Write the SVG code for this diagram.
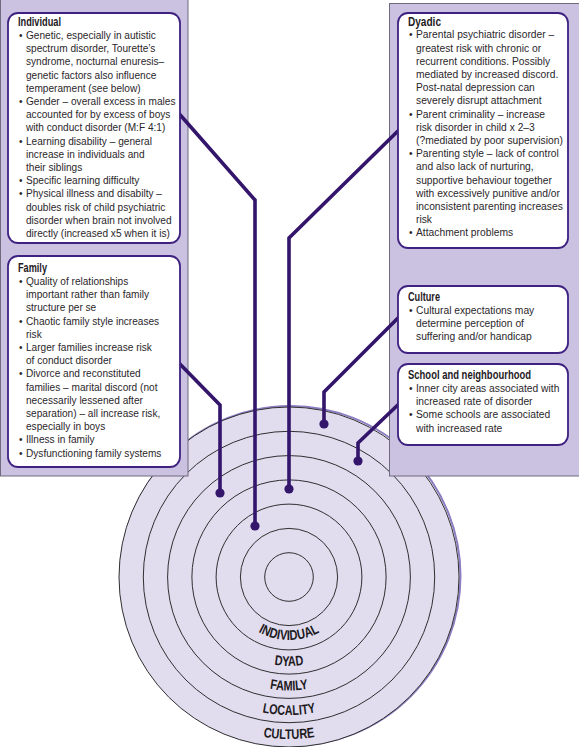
<svg xmlns="http://www.w3.org/2000/svg" width="579" height="747" viewBox="0 0 579 747">
<style>
.panel{fill:#cac2e0;stroke:#6f6a7c;stroke-width:1}
.box{fill:#ffffff;stroke:#3e2180;stroke-width:1.8}
.ring{fill:none;stroke:#2f2f2f;stroke-width:1}
.hd{font-family:"Liberation Sans",Arial,sans-serif;font-weight:bold;font-size:12.5px;fill:#1e1a1e}
.tx{font-family:"Liberation Sans",Arial,sans-serif;font-size:11.3px;fill:#2a262a}
.lbl{font-family:"Liberation Sans",Arial,sans-serif;font-weight:bold;font-size:14px;fill:#1e1a1e}
.con{fill:none;stroke:#33156b;stroke-width:3.6;stroke-linejoin:miter}
.dot{fill:#33156b}
</style>
<defs>
<path id="arc1" d="M 226 577 A 63 63 0 0 0 352 577"/>
<path id="arc2" d="M 200 577 A 89 89 0 0 0 378 577"/>
<path id="arc3" d="M 175.5 577 A 113.5 113.5 0 0 0 402.5 577"/>
<path id="arc4" d="M 151 577 A 138 138 0 0 0 427 577"/>
<path id="arc5" d="M 127 577 A 162 162 0 0 0 451 577"/>
</defs>
<rect width="579" height="747" fill="#ffffff"/>
<g id="rings">
<circle cx="290.5" cy="576" r="170" fill="none" stroke="#8d7dc2" stroke-width="2"/>
<circle cx="289" cy="577" r="170" fill="#e1ddef" stroke="#2f2f2f" stroke-width="1"/>
<circle class="ring" cx="289" cy="577" r="145.7"/>
<circle class="ring" cx="289" cy="577" r="121.4"/>
<circle class="ring" cx="289" cy="577" r="97.1"/>
<circle class="ring" cx="289" cy="577" r="72.9"/>
<circle class="ring" cx="289" cy="577" r="48.6"/>
<circle class="ring" cx="289" cy="577" r="24.3"/>
<text class="lbl"><textPath href="#arc1" startOffset="50%" text-anchor="middle" textLength="64" lengthAdjust="spacingAndGlyphs">INDIVIDUAL</textPath></text>
<text class="lbl"><textPath href="#arc2" startOffset="50%" text-anchor="middle" textLength="30" lengthAdjust="spacingAndGlyphs">DYAD</textPath></text>
<text class="lbl"><textPath href="#arc3" startOffset="50%" text-anchor="middle" textLength="39" lengthAdjust="spacingAndGlyphs">FAMILY</textPath></text>
<text class="lbl"><textPath href="#arc4" startOffset="50%" text-anchor="middle" textLength="54" lengthAdjust="spacingAndGlyphs">LOCALITY</textPath></text>
<text class="lbl"><textPath href="#arc5" startOffset="50%" text-anchor="middle" textLength="52" lengthAdjust="spacingAndGlyphs">CULTURE</textPath></text>
</g>
<g id="panels">
<rect class="panel" x="0.5" y="-2" width="187.5" height="478"/>
<rect class="panel" x="389.5" y="3.5" width="200" height="472.5"/>
</g>
<g id="connectors">
<path class="con" d="M 175 109 L 255 200 L 255 526"/>
<circle class="dot" cx="255" cy="526" r="4.6"/>
<path class="con" d="M 402 127 L 289 238 L 289 489"/>
<circle class="dot" cx="289" cy="489" r="4.6"/>
<path class="con" d="M 175 359 L 220 405 L 220 493"/>
<circle class="dot" cx="220" cy="493" r="4.6"/>
<path class="con" d="M 403 313 L 324 392 L 324 424"/>
<circle class="dot" cx="324" cy="424" r="4.6"/>
<path class="con" d="M 403 400 L 358 443 L 358 461"/>
<circle class="dot" cx="358" cy="461" r="4.6"/>
</g>
<g id="node-individual">
<rect class="box" x="8" y="13" width="172" height="230" rx="10"/>
<text class="hd" x="18" y="26" textLength="43" lengthAdjust="spacingAndGlyphs">Individual</text>
<g transform="translate(26,0) scale(0.895,1)" class="tx">
<text x="-7.8" y="39">•</text><text x="0" y="39">Genetic, especially in autistic</text>
<text x="0" y="52.2">spectrum disorder, Tourette’s</text>
<text x="0" y="65.4">syndrome, nocturnal enuresis–</text>
<text x="0" y="78.6">genetic factors also influence</text>
<text x="0" y="91.8">temperament (see below)</text>
<text x="-7.8" y="105">•</text><text x="0" y="105">Gender – overall excess in males</text>
<text x="0" y="118.2">accounted for by excess of boys</text>
<text x="0" y="131.4">with conduct disorder (M:F 4:1)</text>
<text x="-7.8" y="144.6">•</text><text x="0" y="144.6">Learning disability – general</text>
<text x="0" y="157.8">increase in individuals and</text>
<text x="0" y="171">their siblings</text>
<text x="-7.8" y="184.2">•</text><text x="0" y="184.2">Specific learning difficulty</text>
<text x="-7.8" y="197.4">•</text><text x="0" y="197.4">Physical illness and disabilty –</text>
<text x="0" y="210.6">doubles risk of child psychiatric</text>
<text x="0" y="223.8">disorder when brain not involved</text>
<text x="0" y="237">directly (increased x5 when it is)</text>
</g>
</g>
<g id="node-family">
<rect class="box" x="8" y="256" width="172" height="211" rx="10"/>
<text class="hd" x="18" y="272" textLength="29" lengthAdjust="spacingAndGlyphs">Family</text>
<g transform="translate(26,0) scale(0.895,1)" class="tx">
<text x="-7.8" y="285">•</text><text x="0" y="285">Quality of relationships</text>
<text x="0" y="298.2">important rather than family</text>
<text x="0" y="311.4">structure per se</text>
<text x="-7.8" y="324.6">•</text><text x="0" y="324.6">Chaotic family style increases</text>
<text x="0" y="337.8">risk</text>
<text x="-7.8" y="351">•</text><text x="0" y="351">Larger families increase risk</text>
<text x="0" y="364.2">of conduct disorder</text>
<text x="-7.8" y="377.4">•</text><text x="0" y="377.4">Divorce and reconstituted</text>
<text x="0" y="390.6">families – marital discord (not</text>
<text x="0" y="403.8">necessarily lessened after</text>
<text x="0" y="417">separation) – all increase risk,</text>
<text x="0" y="430.2">especially in boys</text>
<text x="-7.8" y="443.4">•</text><text x="0" y="443.4">Illness in family</text>
<text x="-7.8" y="456.6">•</text><text x="0" y="456.6">Dysfunctioning family systems</text>
</g>
</g>
<g id="node-dyadic">
<rect class="box" x="398" y="13" width="170" height="235" rx="10"/>
<text class="hd" x="408" y="26" textLength="33" lengthAdjust="spacingAndGlyphs">Dyadic</text>
<g transform="translate(416,0) scale(0.91,1)" class="tx">
<text x="-7.7" y="38.5">•</text><text x="0" y="38.5">Parental psychiatric disorder –</text>
<text x="0" y="51.7">greatest risk with chronic or</text>
<text x="0" y="64.9">recurrent conditions. Possibly</text>
<text x="0" y="78.1">mediated by increased discord.</text>
<text x="0" y="91.3">Post-natal depression can</text>
<text x="0" y="104.5">severely disrupt attachment</text>
<text x="-7.7" y="117.7">•</text><text x="0" y="117.7">Parent criminality – increase</text>
<text x="0" y="130.9">risk disorder in child x 2–3</text>
<text x="0" y="144.1">(?mediated by poor supervision)</text>
<text x="-7.7" y="157.3">•</text><text x="0" y="157.3">Parenting style – lack of control</text>
<text x="0" y="170.5">and also lack of nurturing,</text>
<text x="0" y="183.7">supportive behaviour together</text>
<text x="0" y="196.9">with excessively punitive and/or</text>
<text x="0" y="210.1">inconsistent parenting increases</text>
<text x="0" y="223.3">risk</text>
<text x="-7.7" y="236.5">•</text><text x="0" y="236.5">Attachment problems</text>
</g>
</g>
<g id="node-culture">
<rect class="box" x="398" y="286" width="170" height="67" rx="10"/>
<text class="hd" x="408" y="300.5" textLength="32" lengthAdjust="spacingAndGlyphs">Culture</text>
<g transform="translate(416,0) scale(0.91,1)" class="tx">
<text x="-7.7" y="314">•</text><text x="0" y="314">Cultural expectations may</text>
<text x="0" y="327">determine perception of</text>
<text x="0" y="340">suffering and/or handicap</text>
</g>
</g>
<g id="node-school">
<rect class="box" x="398" y="364" width="170" height="81" rx="10"/>
<text class="hd" x="408" y="379" textLength="123" lengthAdjust="spacingAndGlyphs">School and neighbourhood</text>
<g transform="translate(416,0) scale(0.91,1)" class="tx">
<text x="-7.7" y="392">•</text><text x="0" y="392">Inner city areas associated with</text>
<text x="0" y="405.2">increased rate of disorder</text>
<text x="-7.7" y="418.4">•</text><text x="0" y="418.4">Some schools are associated</text>
<text x="0" y="431.6">with increased rate</text>
</g>
</g>
</svg>
